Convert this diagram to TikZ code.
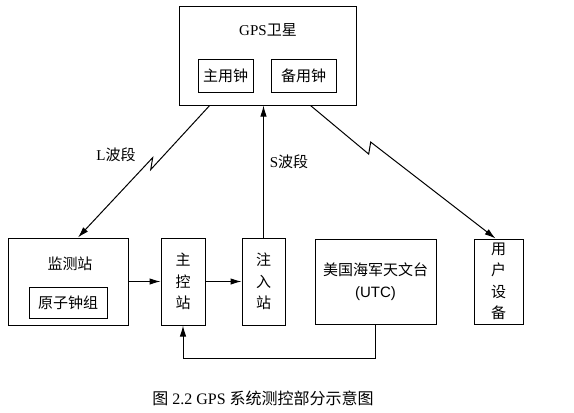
\documentclass[tikz,border=0pt]{standalone}
\usepackage{fontspec}
\setmainfont{Liberation Serif}
\setsansfont{Liberation Sans}
\newfontfamily\cjk{Noto Sans CJK SC}
\usetikzlibrary{arrows.meta,calc}
\begin{document}
\begin{tikzpicture}[x=1pt,y=-1pt]
\tikzset{base/.style={draw,inner sep=0pt},
txt/.style={font=\fontsize{15}{21.5}\selectfont\cjk,align=center},
every path/.style={>={Latex[length=11pt,width=6.5pt]},line width=1pt},
zig/.style={to path={-- ($(\tikztostart)!#1!(\tikztotarget)+(-1,6)$) -- ($(\tikztostart)!#1!(\tikztotarget)+(1,-6)$) -- (\tikztotarget)}}}
\useasboundingbox (0,0) rectangle (574,413);
\node[base,minimum width=177pt,minimum height=99pt] at (267.5,55.5) (SAT) {};
\node[txt] at (268,30) (SATL) {{\rmfamily GPS}卫星};
\node[base,txt,minimum width=55pt,minimum height=33pt] at (225.5,75.5) (MAIN) {主用钟};
\node[base,txt,minimum width=65pt,minimum height=33pt] at (303.5,75.5) (BAK) {备用钟};
\node[base,minimum width=120pt,minimum height=87pt] at (68,281.5) (MON) {};
\node[txt] at (70,264) (MONL) {监测站};
\node[base,txt,minimum width=78pt,minimum height=31pt] at (68,302.5) (ATOM) {原子钟组};
\node[base,txt,minimum width=44pt,minimum height=87pt] at (183,281.5) (MC) {主\\控\\站};
\node[base,txt,minimum width=43pt,minimum height=87pt] at (263.5,281.5) (INJ) {注\\入\\站};
\node[base,txt,minimum width=121pt,minimum height=85pt] at (375.5,281.5) (USNO) {美国海军天文台\\{\sffamily (UTC)}};
\node[base,txt,minimum width=49pt,minimum height=85pt] at (498.5,281.5) (USER) {用\\户\\设\\备};
\draw[->,zig=0.44] ($(SAT.south west)!0.175!(SAT.south east)$) to ($(MON.north)+(10,0)$);
\node[txt] at (116,155) (LBAND) {{\rmfamily L}波段};
\draw[->] (INJ.north) -- (INJ.north |- SAT.south);
\node[txt] at (289,162) (SBAND) {{\rmfamily S}波段};
\draw[->,zig=0.32] ($(SAT.south)+(43,0)$) to ($(USER.north)+(-3,0)$);
\draw[->] (MON.east) -- (MC.west);
\draw[->] (MC.east) -- (INJ.west);
\draw[->] (USNO.south) -- ++(0,34) -| (MC.south);
\node[font=\fontsize{16}{18}\selectfont] at (263,398) (CAP) {{\cjk 图} 2.2 GPS {\cjk 系统测控部分示意图}};
\end{tikzpicture}
\end{document}
